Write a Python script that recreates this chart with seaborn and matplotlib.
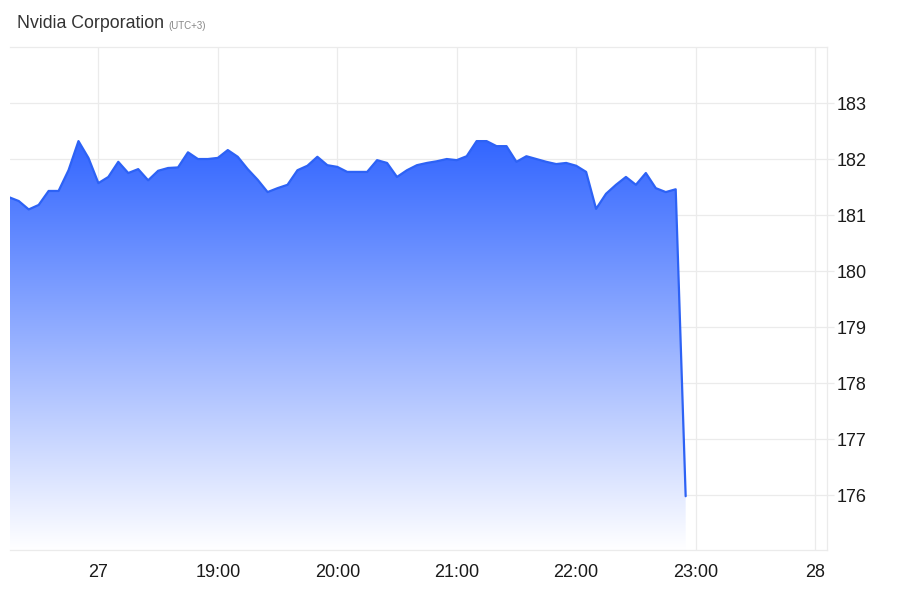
import numpy as np
import pandas as pd
import matplotlib
matplotlib.use("Agg")
import matplotlib.pyplot as plt
from matplotlib.colors import LinearSegmentedColormap
import seaborn as sns

# ---- data ----
start_hour = 17.25          # 17:15 (UTC+3)
step_minutes = 5
prices = [181.32, 181.25, 181.10, 181.18, 181.43, 181.43, 181.80, 182.32, 182.02, 181.57,
          181.68, 181.95, 181.75, 181.82, 181.62, 181.79, 181.84, 181.85, 182.12, 182.00,
          182.00, 182.02, 182.16, 182.04, 181.82, 181.63, 181.41, 181.48, 181.54, 181.80,
          181.88, 182.04, 181.89, 181.86, 181.77, 181.77, 181.77, 181.98, 181.93, 181.68,
          181.80, 181.89, 181.93, 181.96, 182.00, 181.98, 182.05, 182.32, 182.32, 182.23,
          182.23, 181.95, 182.05, 182.00, 181.95, 181.91, 181.93, 181.88, 181.77, 181.11,
          181.38, 181.54, 181.68, 181.54, 181.75, 181.48, 181.41, 181.46, 175.98]
hours = [start_hour + i * step_minutes / 60 for i in range(len(prices))]

x_tick_pos = [18, 19, 20, 21, 22, 23, 24]
x_tick_labels = ["27", "19:00", "20:00", "21:00", "22:00", "23:00", "28"]
y_ticks = [176, 177, 178, 179, 180, 181, 182, 183]
y_min, y_max = 175.02, 184.0
x_min, x_max = 17.26, 24.10

title = "Nvidia Corporation"
subtitle = "(UTC+3)"

df = pd.DataFrame({"hour": hours, "price": prices})

# ---- style ----
sns.set_theme(style="white")
plt.rcParams["font.family"] = ["Liberation Sans", "DejaVu Sans"]

grid_c = "#ebebeb"
line_c = "#2d62f5"

fig = plt.figure(figsize=(9, 6), dpi=100)
ax = fig.add_axes([10 / 900, 1 - 550 / 600, 817 / 900, 503 / 600])

# gradient fill under the line
poly = ax.fill_between(df["hour"], df["price"], y_min, facecolor="none", edgecolor="none")
cmap = LinearSegmentedColormap.from_list("g", ["#ffffff", "#3366ff"])
grad = np.linspace(0, 1, 256).reshape(-1, 1)
top_val = max(prices)
im = ax.imshow(grad, aspect="auto", cmap=cmap, origin="lower",
               extent=[x_min, x_max, y_min, top_val], zorder=1, interpolation="bicubic")
path = poly.get_paths()[0]
im.set_clip_path(path, transform=ax.transData)

sns.lineplot(data=df, x="hour", y="price", ax=ax, color=line_c, linewidth=1.6, zorder=3)

ax.set_xlim(x_min, x_max)
ax.set_ylim(y_min, y_max)

ax.set_xticks(x_tick_pos)
ax.set_xticklabels(x_tick_labels)
ax.set_yticks(y_ticks)
ax.set_yticklabels([str(v) for v in y_ticks])
ax.yaxis.tick_right()

ax.grid(True, color=grid_c, linewidth=0.9, zorder=0)
ax.set_axisbelow(True)
ax.tick_params(axis="y", length=5, color=grid_c, width=0.9, pad=2, labelsize=13, labelcolor="#1a1a1a")
ax.tick_params(axis="x", length=0, pad=10, labelsize=13, labelcolor="#1a1a1a")

for side in ["top", "right", "bottom"]:
    ax.spines[side].set_visible(True)
    ax.spines[side].set_color(grid_c)
    ax.spines[side].set_linewidth(0.9)
ax.spines["left"].set_visible(False)

ax.set_xlabel("")
ax.set_ylabel("")

fig.text(17 / 900, 1 - 24 / 600, title, fontsize=12.8, color="#333333", va="center", ha="left")
fig.text(168 / 900, 1 - 26 / 600, subtitle, fontsize=7, color="#888888", va="center", ha="left")

fig.savefig("out.png", dpi=100)
